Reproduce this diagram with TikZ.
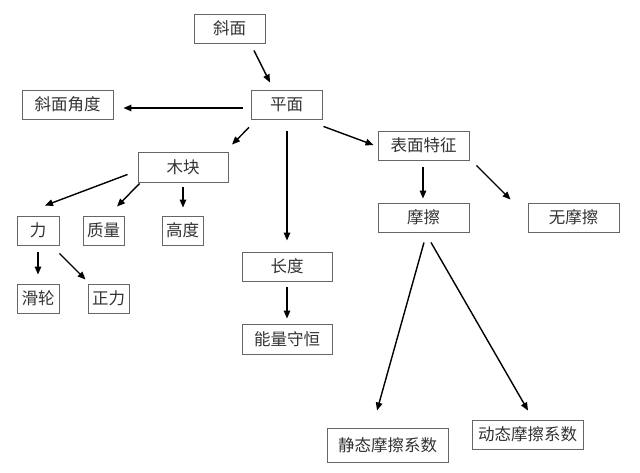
\documentclass[tikz,border=0pt]{standalone}
\usepackage{fontspec}
\setmainfont{Noto Sans CJK SC}
\usetikzlibrary{arrows.meta}
\begin{document}
\begin{tikzpicture}[x=1pt,y=-1pt,
  box/.style={draw=black!60,line width=0.9pt,fill=white,inner sep=0pt,
    font=\fontsize{16.5}{18}\selectfont,text=black!80},
  arr/.style={line width=1.4pt,-{Triangle[length=8pt,width=6.5pt]}}]
\useasboundingbox[fill=white] (0,0) rectangle (640,472);
\node[box,minimum width=71pt,minimum height=29pt] (xm) at (229.5,28.5) {斜面};
\node[box,minimum width=71pt,minimum height=29pt] (pm) at (286.5,104.5) {平面};
\node[box,minimum width=91pt,minimum height=29pt] (xmjd) at (67.5,104.5) {斜面角度};
\node[box,minimum width=90pt,minimum height=30pt] (mk) at (183,167) {木块};
\node[box,minimum width=91pt,minimum height=29pt] (bmtz) at (423.5,145.5) {表面特征};
\node[box,minimum width=42pt,minimum height=29pt] (li) at (38,230.5) {力};
\node[box,minimum width=41pt,minimum height=29pt] (zl) at (103.5,230.5) {质量};
\node[box,minimum width=41pt,minimum height=29pt] (gd) at (182.5,230.5) {高度};
\node[box,minimum width=91pt,minimum height=29pt] (mc) at (423.5,217.5) {摩擦};
\node[box,minimum width=91pt,minimum height=29pt] (wmc) at (573.5,217.5) {无摩擦};
\node[box,minimum width=90pt,minimum height=29pt] (cd) at (287,266.5) {长度};
\node[box,minimum width=42pt,minimum height=29pt] (hl) at (38,298.5) {滑轮};
\node[box,minimum width=41pt,minimum height=29pt] (zhl) at (108.5,298.5) {正力};
\node[box,minimum width=90pt,minimum height=30pt] (nl) at (287,339) {能量守恒};
\node[box,minimum width=121pt,minimum height=34pt] (jt) at (387.5,445) {静态摩擦系数};
\node[box,minimum width=111pt,minimum height=29pt] (dt) at (527.5,434.5) {动态摩擦系数};

\draw[arr] ([shift={(24.5,7)}]xm.south) -- ([shift={(-16.5,-7)}]pm.north);
\draw[arr] ([shift={(-8,3.5)}]pm.west) -- ([shift={(10,3.5)}]xmjd.east);
\draw[arr] ([shift={(-37.5,8)}]pm.south) -- ([shift={(49,-7)}]mk.north);
\draw[arr] ([shift={(0.5,12)}]pm.south) -- ([shift={(0,-11)}]cd.north);
\draw[arr] ([shift={(1,7)}]pm.south east) -- ([shift={(-4,-0.5)}]bmtz.west);
\draw[arr] ([shift={(-0.5,7)}]bmtz.south) -- ([shift={(-0.5,-4)}]mc.north);
\draw[arr] ([shift={(7,5)}]bmtz.south east) -- ([shift={(-17,-3)}]wmc.north west);
\draw[arr] ([shift={(-10,-8)}]mk.south west) -- ([shift={(7,-10)}]li.north);
\draw[arr] ([shift={(2,1)}]mk.south west) -- ([shift={(13.5,-9)}]zl.north);
\draw[arr] ([shift={(0,5)}]mk.south) -- ([shift={(0.5,-8)}]gd.north);
\draw[arr] ([shift={(0,7)}]li.south) -- ([shift={(0,-9)}]hl.north);
\draw[arr] ([shift={(0,8)}]li.south east) -- ([shift={(-2,-4)}]zhl.north west);
\draw[arr] ([shift={(0,6)}]cd.south) -- ([shift={(0,-5)}]nl.north);
\draw[arr] ([shift={(0.5,10)}]mc.south) -- ([shift={(-10.5,-17)}]jt.north);
\draw[arr] ([shift={(7.5,10)}]mc.south) -- ([shift={(0.5,-9)}]dt.north);
\end{tikzpicture}
\end{document}
